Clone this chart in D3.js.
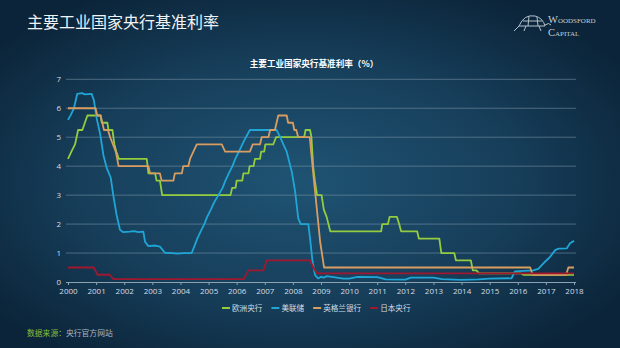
<!DOCTYPE html>
<html>
<head>
<meta charset="utf-8">
<script src="https://cdn.jsdelivr.net/npm/d3@7"></script>
<style>
  body { margin: 0; background: #0c2a40; }
  svg { display: block; }
</style>
</head>
<body>
<svg width="620" height="348"></svg>
<script>
// ---- data ----
var seriesNames = ["欧洲央行", "美联储", "英格兰银行", "日本央行"];
var seriesColors = ["#93cc3f", "#1fa6d6", "#d99d62", "#a0182f"];
var xTicks = [2000,2001,2002,2003,2004,2005,2006,2007,2008,2009,2010,2011,2012,2013,2014,2015,2016,2017,2018];
var yTicks = [0,1,2,3,4,5,6,7];

// 欧洲央行
var ecbYears = [2000.0,2000.12,2000.25,2000.36,2000.51,2000.6,2000.69,2001.16,2001.2,2001.4,2001.44,2001.58,2001.65,2001.72,2001.81,
  2002.8,2002.86,2003.1,2003.15,2003.27,2003.35,2005.78,2005.84,2005.96,2006.0,2006.2,2006.24,2006.42,2006.46,2006.6,2006.65,
  2006.83,2006.87,2006.98,2007.02,2007.3,2007.4,2008.4,2008.45,2008.61,2008.66,2008.72,2008.78,2008.86,2009.02,2009.1,2009.2,
  2009.33,2011.14,2011.18,2011.38,2011.44,2011.7,2011.78,2011.85,2012.42,2012.48,2013.21,2013.28,2013.74,2013.8,2014.33,
  2014.4,2014.53,2014.62,2016.1,2016.2,2018.0];
var ecbRates = [4.25,4.5,4.75,5.25,5.25,5.5,5.75,5.75,5.5,5.5,5.25,5.25,4.75,4.5,4.25,
  4.25,3.75,3.75,3.5,3.5,3.0,3.0,3.25,3.25,3.5,3.5,3.75,3.75,4.0,4.0,4.25,
  4.25,4.5,4.5,4.75,4.75,5.0,5.0,5.25,5.25,5.0,4.0,3.5,3.0,3.0,2.5,2.25,
  1.75,1.75,2.0,2.0,2.25,2.25,2.0,1.75,1.75,1.5,1.5,1.0,1.0,0.75,0.75,
  0.4,0.4,0.3,0.3,0.25,0.25];

// 美联储
var fedYears = [2000.0,2000.1,2000.21,2000.33,2000.5,2000.6,2000.84,2000.92,2001.02,2001.14,2001.26,2001.38,2001.52,2001.61,2001.73,
  2001.85,2001.97,2002.2,2002.35,2002.5,2002.68,2002.74,2002.86,2003.1,2003.27,2003.45,2003.7,2003.9,2004.1,2004.4,
  2004.5,2004.6,2004.72,2004.85,2004.95,2005.08,2005.2,2005.35,2005.5,2005.6,2005.72,2005.85,2005.95,2006.08,2006.2,2006.33,
  2006.47,2007.42,2007.54,2007.66,2007.78,2007.96,2008.08,2008.19,2008.28,2008.55,2008.61,2008.7,2008.79,2008.9,2009.0,
  2009.1,2009.2,2009.5,2009.8,2010.0,2010.3,2011.0,2011.3,2012.0,2012.2,2013.0,2013.3,2014.0,2014.6,2015.0,2015.78,
  2015.9,2016.55,2016.73,2016.97,2017.15,2017.33,2017.45,2017.74,2017.86,2018.0];
var fedRates = [5.6,5.77,6.0,6.5,6.52,6.48,6.5,6.28,5.65,5.13,4.38,3.93,3.6,3.0,2.31,
  1.8,1.72,1.74,1.76,1.72,1.74,1.39,1.24,1.26,1.22,1.01,1.0,0.98,1.0,1.0,
  1.25,1.5,1.75,2.0,2.25,2.5,2.75,3.0,3.25,3.5,3.75,4.0,4.25,4.5,4.75,5.0,
  5.25,5.25,5.02,4.75,4.5,3.81,3.12,2.2,2.0,2.0,1.51,0.7,0.24,0.12,0.18,
  0.15,0.2,0.16,0.12,0.12,0.18,0.17,0.09,0.08,0.15,0.15,0.1,0.07,0.09,0.12,0.13,
  0.37,0.4,0.45,0.7,0.87,1.1,1.15,1.16,1.34,1.42];

// 英格兰银行
var boeYears = [2000.0,2000.98,2001.04,2001.16,2001.22,2001.28,2001.42,2001.5,2001.6,2001.7,2001.8,2002.86,2002.92,2003.27,2003.33,
  2003.75,2003.8,2004.05,2004.1,2004.28,2004.34,2004.46,2004.58,2005.47,2005.59,2006.47,2006.57,2006.83,2006.89,2007.13,
  2007.19,2007.36,2007.42,2007.48,2007.78,2007.83,2008.0,2008.05,2008.12,2008.19,2008.6,2008.73,2008.85,2008.97,2009.11,
  2016.44,2016.53,2017.72,2017.8,2018.0];
var boeRates = [6.0,6.0,5.75,5.75,5.5,5.25,5.25,5.0,4.75,4.5,4.0,4.0,3.75,3.75,3.5,
  3.5,3.75,3.75,4.0,4.0,4.25,4.5,4.75,4.75,4.5,4.5,4.75,4.75,5.0,5.0,
  5.25,5.25,5.5,5.75,5.75,5.5,5.5,5.25,5.25,5.0,5.0,3.69,2.54,1.39,0.5,
  0.5,0.25,0.25,0.5,0.5];

// 日本央行
var bojYears = [2000.0,2000.92,2001.0,2001.05,2001.49,2001.61,2006.25,2006.42,2006.95,2007.07,2008.61,2008.73,2008.85,2018.0];
var bojRates = [0.5,0.5,0.35,0.25,0.25,0.1,0.1,0.4,0.4,0.75,0.75,0.5,0.3,0.3];

var seriesYears = [ecbYears, fedYears, boeYears, bojYears];
var seriesRates = [ecbRates, fedRates, boeRates, bojRates];

// ---- drawing ----
var svg = d3.select("svg");
var W = 620, H = 348;

var defs = svg.append("defs");
var grad = defs.append("radialGradient").attr("id", "bg")
  .attr("cx", "48%").attr("cy", "52%").attr("r", "62%");
grad.append("stop").attr("offset", "0%").attr("stop-color", "#1f5373");
grad.append("stop").attr("offset", "55%").attr("stop-color", "#173f5b");
grad.append("stop").attr("offset", "100%").attr("stop-color", "#0b2439");
svg.append("rect").attr("width", W).attr("height", H).attr("fill", "url(#bg)");

// main title
svg.append("text").attr("x", 27).attr("y", 28)
  .attr("fill", "#eef3f6").attr("font-size", 16)
  .attr("font-family", "'Noto Sans CJK SC', sans-serif")
  .text("主要工业国家央行基准利率");

// logo
var logo = svg.append("g").attr("fill", "none").attr("stroke", "#b3c1cb").attr("stroke-width", 1);
logo.append("path").attr("d", "M519,26 Q524,14 535,16 Q543,18 545,26 Z");
logo.append("path").attr("d", "M523,21 L542,21 M529,16 L528,26 M537,17 L538,26");
logo.append("path").attr("d", "M519,26 L514,31 M526,26 L524,31 M539,26 L541,31 M545,25 Q549,22 551,25");
svg.append("text").attr("x", 548).attr("y", 23)
  .attr("fill", "#c3ced6").attr("font-size", 10.5).attr("font-variant", "small-caps")
  .attr("font-family", "'Liberation Serif', serif").text("Woodsford");
svg.append("text").attr("x", 548).attr("y", 36)
  .attr("fill", "#c3ced6").attr("font-size", 10.5).attr("font-variant", "small-caps")
  .attr("font-family", "'Liberation Serif', serif").text("Capital");

// chart title
svg.append("text").attr("x", 314).attr("y", 67).attr("text-anchor", "middle")
  .attr("fill", "#ffffff").attr("font-size", 8.6).attr("font-weight", "bold")
  .attr("font-family", "'Noto Sans CJK SC', sans-serif")
  .text("主要工业国家央行基准利率（%）");

var x = d3.scaleLinear().domain([2000, 2018]).range([68, 574]);
var y = d3.scaleLinear().domain([0, 7]).range([282, 79.3]);

// grid
svg.append("g").selectAll("line")
  .data(yTicks.filter(function(d){ return d > 0; }))
  .enter().append("line")
  .attr("x1", 66).attr("x2", 576)
  .attr("y1", function(d){ return y(d); }).attr("y2", function(d){ return y(d); })
  .attr("stroke", "#7d98aa").attr("stroke-opacity", 0.55).attr("stroke-width", 1);

// y labels
var yAxis = svg.append("g").attr("transform", "translate(66,0)")
  .call(d3.axisLeft(y).tickValues(yTicks).tickFormat(d3.format("d")).tickSize(0).tickPadding(5));
yAxis.select(".domain").remove();
yAxis.selectAll("text").attr("fill", "#d5dde3").attr("font-size", 8)
  .attr("font-family", "'Open Sans', sans-serif");

// x axis
var xAxis = svg.append("g").attr("transform", "translate(0,282)")
  .call(d3.axisBottom(x).tickValues(xTicks).tickFormat(d3.format("d")).tickSize(3).tickPadding(3));
xAxis.select(".domain").attr("stroke", "#8aa2b2").attr("d", "M66,0.5H576");
xAxis.selectAll(".tick line").attr("stroke", "#8aa2b2");
xAxis.selectAll("text").attr("fill", "#d5dde3").attr("font-size", 8)
  .attr("font-family", "'Open Sans', sans-serif");

// lines
var line = d3.line()
  .x(function(d){ return x(d[0]); })
  .y(function(d){ return y(d[1]); });

seriesNames.forEach(function(name, i) {
  var pts = d3.zip(seriesYears[i], seriesRates[i]);
  svg.append("path").datum(pts)
    .attr("fill", "none")
    .attr("stroke", seriesColors[i])
    .attr("stroke-width", 1.8)
    .attr("stroke-linejoin", "round")
    .attr("d", line);
});

// legend
var lg = svg.append("g").attr("transform", "translate(222,308)");
var lx = 0;
seriesNames.forEach(function(name, i) {
  var item = lg.append("g").attr("transform", "translate(" + lx + ",0)");
  item.append("line").attr("x1", 0).attr("x2", 8).attr("y1", 0).attr("y2", 0)
    .attr("stroke", seriesColors[i]).attr("stroke-width", 2);
  var t = item.append("text").attr("x", 10).attr("y", 3)
    .attr("fill", "#d5dde3").attr("font-size", 7.6)
    .attr("font-family", "'Noto Sans CJK SC', sans-serif")
    .text(name);
  lx += 10 + t.node().getComputedTextLength() + 9;
});

// source
var src = svg.append("text").attr("x", 27).attr("y", 336)
  .attr("font-size", 7.8).attr("font-family", "'Noto Sans CJK SC', sans-serif");
src.append("tspan").attr("fill", "#7fbf3a").text("数据来源：");
src.append("tspan").attr("fill", "#aab8c2").text("央行官方网站");
</script>
</body>
</html>
